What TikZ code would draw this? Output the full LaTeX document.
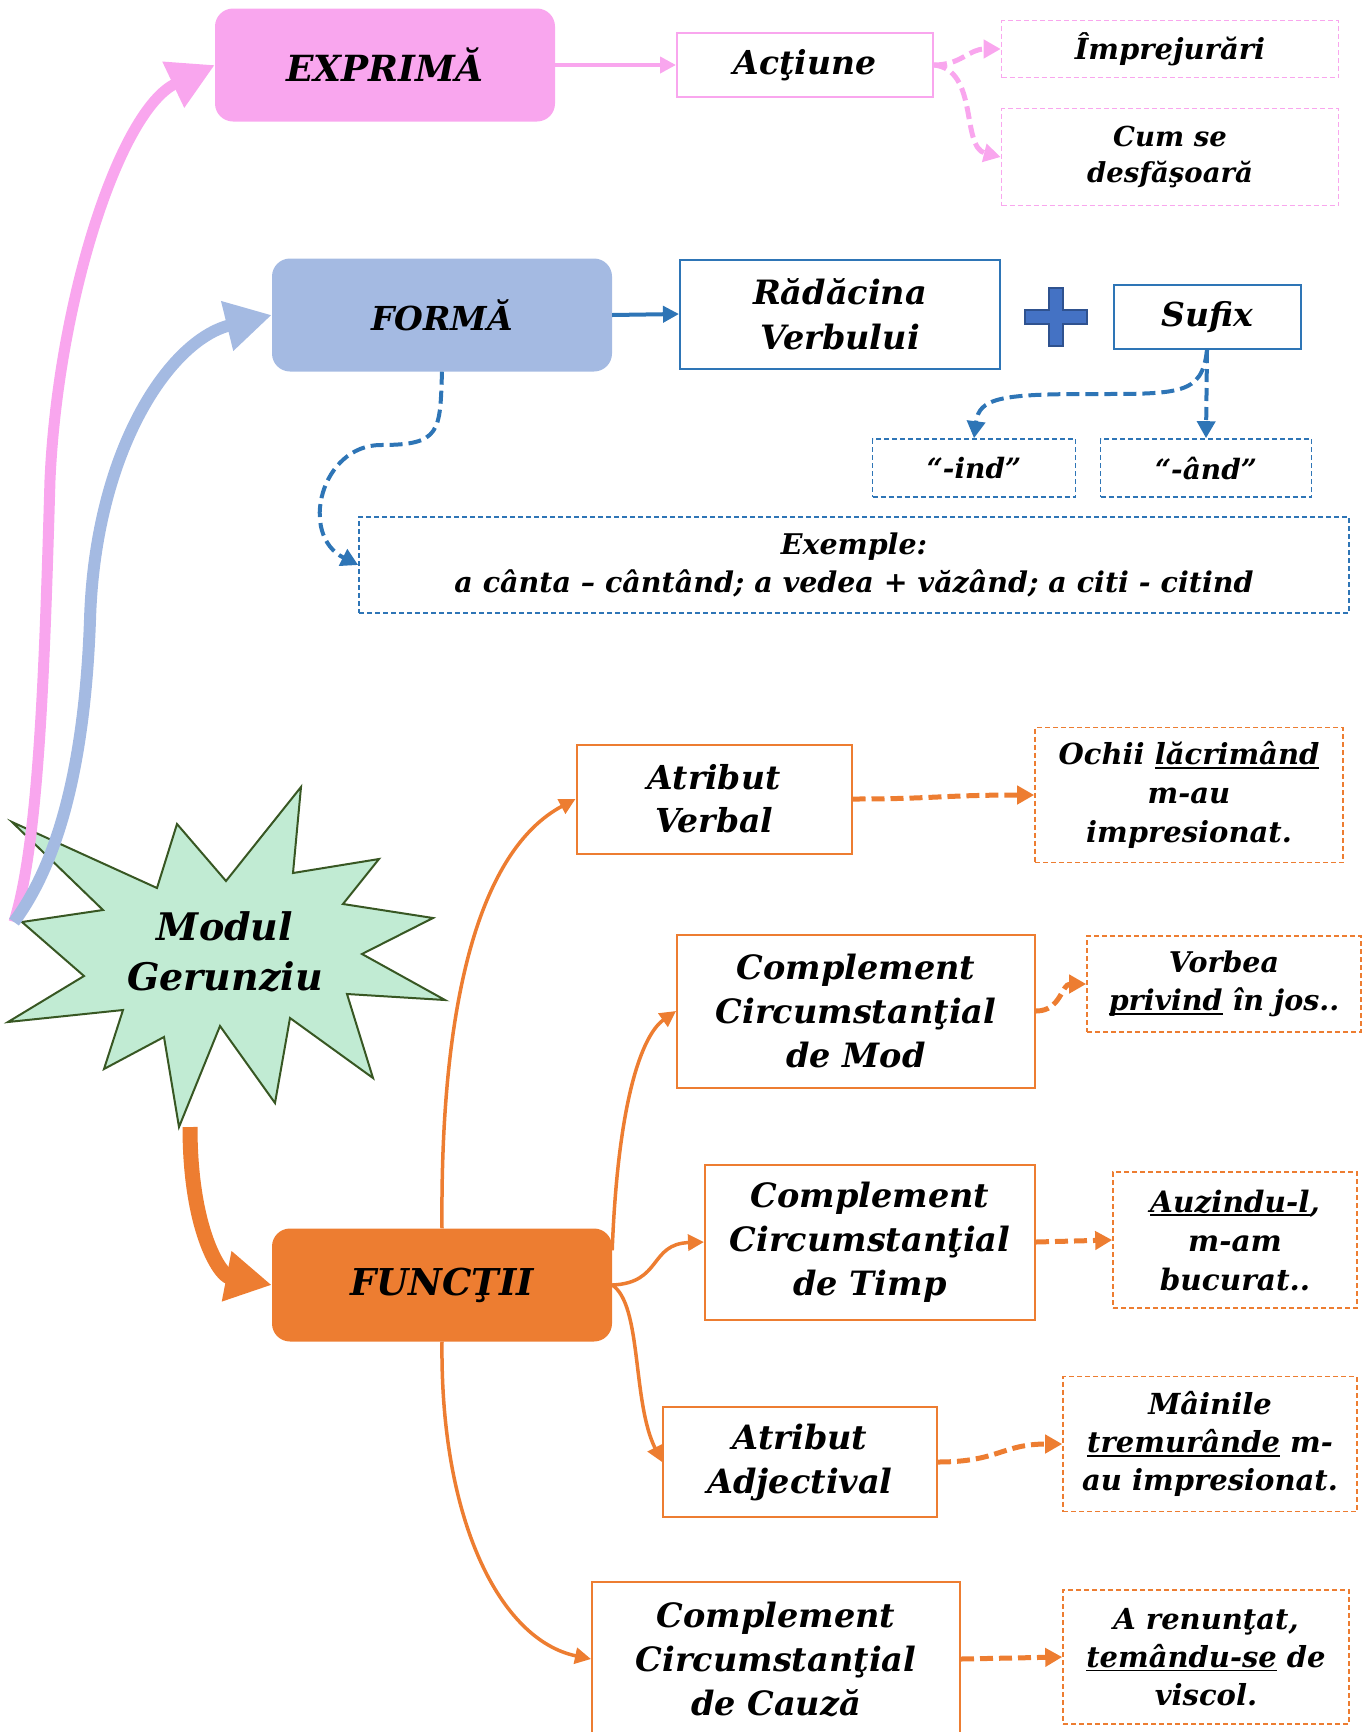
\documentclass[tikz,border=0pt]{standalone}
\usepackage{fontspec}
\setmainfont{DejaVu Serif}
\usetikzlibrary{arrows.meta}
\definecolor{pinkfill}{HTML}{F9A6EE}
\definecolor{bluefill}{HTML}{A4BAE2}
\definecolor{blueline}{HTML}{2E75B6}
\definecolor{plusfill}{HTML}{4472C4}
\definecolor{plusline}{HTML}{2F528F}
\definecolor{orangeline}{HTML}{ED7D31}
\definecolor{burstfill}{HTML}{C1EBD3}
\definecolor{burstline}{HTML}{385723}
\newcommand{\undl}[1]{\setbox0\hbox{#1}\rlap{\rule[-4pt]{\wd0}{1.6pt}}\box0\relax}
\tikzset{
  fs/.style 2 args={font=\bfseries\itshape\fontsize{#1}{#2}\selectfont},
  txt/.style={align=center, inner sep=0pt},
  headbox/.style={txt, rounded corners=18pt, minimum width=340pt, minimum height=113pt},
  box/.style={txt, draw, line width=2pt},
  exbox/.style={txt, draw, line width=1.6pt, dash pattern=on 5pt off 3pt},
  bigarrow/.style={line width=11pt, -{Triangle[length=46pt, width=48pt]}},
  link/.style={line width=4pt, -{Triangle[length=16pt, width=16pt]}},
  dashlink/.style={line width=5pt, dash pattern=on 13pt off 6pt, -{Triangle[length=17pt, width=18pt]}},
}
\begin{document}
\begin{tikzpicture}[x=1pt, y=-1pt]
    \useasboundingbox (0,0) rectangle (1361,1732);
    % top branch
    \node[headbox, fill=pinkfill, fs={36}{44}] (expr) at (385,65) {EXPRIMĂ};
    \node[box, draw=pinkfill, minimum width=256pt, minimum height=64pt, fs={33}{40}] (actiune) at (805,65) {Acţiune};
    \node[exbox, draw=pinkfill, minimum width=337pt, minimum height=57pt, fs={29}{36}] (impr) at (1170,49) {Împrejurări};
    \node[exbox, draw=pinkfill, minimum width=337pt, minimum height=97pt, fs={27.5}{36}] (cumse) at (1170,157) {Cum se\\desfăşoară};
    \draw[link, pinkfill] (expr.east) -- (actiune.west);
    \draw[dashlink, pinkfill] (actiune.east) .. controls +(27,0) and +(-32,0) .. (impr.west);
    \draw[dashlink, pinkfill] (actiune.east) .. controls +(45,5) and +(-40,-10) .. (cumse.west);
    % form branch
    \node[headbox, fill=bluefill, fs={33}{40}] (forma) at (442,315) {FORMĂ};
    \node[box, draw=blueline, minimum width=320pt, minimum height=109pt, fs={33.5}{45}] (radacina) at (840,314) {Rădăcina\\Verbului};
    \node[box, draw=blueline, minimum width=187pt, minimum height=64pt, fs={33}{40}] (sufix) at (1207,317) {Sufix};
    \node[exbox, draw=blueline, minimum width=203pt, minimum height=58pt, fs={28}{34}] (sufind) at (974,468) {“-ind”};
    \node[exbox, draw=blueline, minimum width=211pt, minimum height=58pt, fs={28}{34}] (sufand) at (1206,468) {“-ând”};
    \node[exbox, draw=blueline, minimum width=990pt, minimum height=96pt, fs={28.5}{37.5}] (exemple) at (854,565) {Exemple:\\a cânta – cântând; a vedea + văzând; a citi - citind};
    \draw[plusline, fill=plusfill, line width=1.5pt] (1049,288) -- (1063,288) -- (1063,310) -- (1087,310) -- (1087,324) -- (1063,324) -- (1063,346) -- (1049,346) -- (1049,324) -- (1025,324) -- (1025,310) -- (1049,310) -- cycle;
    \draw[link, blueline] (forma.east) -- (radacina.west);
    \draw[dashlink, blueline, line width=4pt] (sufix.south) .. controls +(-5,45) and +(90,0) .. (1090,394) .. controls +(-90,0) and +(5,-40) .. (sufind.north);
    \draw[dashlink, blueline, line width=4pt] (sufix.south) -- (sufand.north);
    \draw[dashlink, blueline, line width=4pt] (forma.south) .. controls +(-2,60) and +(60,0) .. (381,445) .. controls +(-60,0) and +(-60,-30) .. (exemple.west);
    % star
    \draw[burstline, fill=burstfill, line width=2pt] (12,822) -- (103,910) -- (22,922) -- (84,976) -- (8,1022) -- (123,1010) -- (104,1069) -- (164,1037) -- (179,1127) -- (220,1026) -- (275,1103) -- (290,1018) -- (373,1078) -- (347,994) -- (445,1000) -- (362,954) -- (433,918) -- (343,904) -- (379,859) -- (293,873) -- (301,787) -- (226,881) -- (177,824) -- (157,888) -- cycle;
    \node[txt, fs={38}{50}] (modul) at (225,952) {Modul\\Gerunziu};
    \coordinate (burstL) at (14,922);
    \coordinate (burstB) at (190,1127);
    \draw[bigarrow, pinkfill] (burstL) .. controls (40,840) and (45,650) .. (50,480) .. controls (58,300) and (120,110) .. (expr.west);
    \draw[bigarrow, bluefill, line width=12pt] (burstL) .. controls (60,860) and (85,760) .. (90,620) .. controls (95,450) and (170,340) .. (forma.west);
    % functions branch
    \node[headbox, fill=orangeline, fs={37}{44}] (functii) at (442,1285) {FUNCŢII};
    \draw[bigarrow, orangeline, line width=15pt] (burstB) .. controls (190,1230) and (220,1275) .. (functii.west);
    \node[box, draw=orangeline, minimum width=275pt, minimum height=109pt, fs={33}{43}] (atrverb) at (714,799) {Atribut\\Verbal};
    \node[exbox, draw=orangeline, minimum width=308pt, minimum height=135pt, fs={29}{39}] (ochii) at (1189,795) {Ochii \undl{lăcrimând}\\m-au\\impresionat.};
    \node[box, draw=orangeline, minimum width=358pt, minimum height=153pt, fs={33.5}{44}] (ccmod) at (856,1011) {Complement\\Circumstanţial\\de Mod};
    \node[exbox, draw=orangeline, minimum width=274pt, minimum height=96pt, fs={28.5}{38}] (vorbea) at (1224,984) {Vorbea\\\undl{privind} în jos..};
    \node[box, draw=orangeline, minimum width=330pt, minimum height=155pt, fs={33.5}{44}] (cctimp) at (870,1242) {Complement\\Circumstanţial\\de Timp};
    \node[exbox, draw=orangeline, minimum width=244pt, minimum height=136pt, fs={29.5}{39}] (auzindu) at (1235,1240) {\undl{Auzindu-l},\\m-am\\bucurat..};
    \node[box, draw=orangeline, minimum width=274pt, minimum height=110pt, fs={33.5}{44}] (atradj) at (800,1462) {Atribut\\Adjectival};
    \node[exbox, draw=orangeline, minimum width=294pt, minimum height=135pt, fs={29}{38}] (mainile) at (1210,1444) {Mâinile\\\undl{tremurânde} m-\\au impresionat.};
    \node[box, draw=orangeline, minimum width=368pt, minimum height=155pt, fs={33.5}{44}] (cccauza) at (776,1659) {Complement\\Circumstanţial\\de Cauză};
    \node[exbox, draw=orangeline, minimum width=286pt, minimum height=134pt, fs={29}{38}] (arenuntat) at (1206,1657) {A renunţat,\\\undl{temându-se} de\\viscol.};
    \draw[link, orangeline, line width=3.5pt] (functii.north) .. controls (440,1000) and (480,850) .. (atrverb.west);
    \draw[link, orangeline, line width=3.5pt] ([yshift=-22pt]functii.north east) .. controls (618,1100) and (642,1035) .. (ccmod.west);
    \draw[link, orangeline, line width=3.5pt] (functii.east) .. controls +(50,-2) and +(-55,2) .. (cctimp.west);
    \draw[link, orangeline, line width=3.5pt] (functii.east) .. controls +(30,20) and +(-30,-60) .. (atradj.west);
    \draw[link, orangeline, line width=3.5pt] (functii.south) .. controls (440,1520) and (500,1640) .. (cccauza.west);
    \draw[dashlink, orangeline] (atrverb.east) .. controls +(80,0) and +(-90,0) .. (ochii.west);
    \draw[dashlink, orangeline] (ccmod.east) .. controls +(25,0) and +(-25,0) .. (vorbea.west);
    \draw[dashlink, orangeline] (cctimp.east) -- (auzindu.west);
    \draw[dashlink, orangeline] (atradj.east) .. controls +(60,0) and +(-60,0) .. (mainile.west);
    \draw[dashlink, orangeline] (cccauza.east) -- (arenuntat.west);
\end{tikzpicture}
\end{document}
